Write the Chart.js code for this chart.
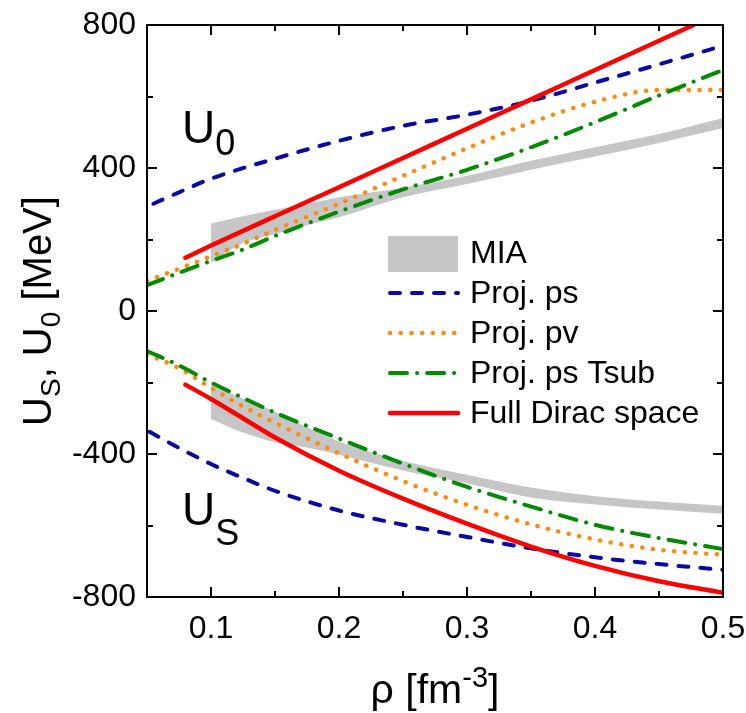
<!DOCTYPE html>
<html>
<head>
<meta charset="utf-8">
<script src="https://cdn.jsdelivr.net/npm/chart.js@4.4.1/dist/chart.umd.min.js"></script>
<style>
  html, body { margin: 0; padding: 0; background: #fff; }
  canvas { display: block; }
</style>
</head>
<body>
<canvas id="chart" width="746" height="713"></canvas>
<script>
/* ---------- Data ---------- */
const xTickVals = [0.1, 0.2, 0.3, 0.4, 0.5];
const yTickVals = [-800, -400, 0, 400, 800];
const seriesNames = ['MIA', 'Proj. ps', 'Proj. pv', 'Proj. ps Tsub', 'Full Dirac space'];

// MIA band (upper / lower edges)
const rhoMia     = [0.1, 0.125, 0.15, 0.175, 0.2, 0.25, 0.3, 0.35, 0.4, 0.45, 0.5];
const miaU0Upper = [245, 265, 283, 300, 318, 345, 378, 420, 458, 495, 540];
const miaU0Lower = [135, 190, 215, 240, 262, 318, 355, 395, 432, 470, 512];
const miaUsUpper = [-208, -245, -282, -325, -365, -419, -458, -494, -518, -533, -545];
const miaUsLower = [-302, -340, -367, -382, -402, -446, -482, -522, -541, -555, -567];

// Proj. ps
const rhoPs  = [0.055, 0.075, 0.1, 0.15, 0.2, 0.25, 0.3, 0.35, 0.4, 0.45, 0.5];
const psU0   = [300, 332, 370, 426, 476, 518, 549, 588, 639, 690, 742];
const rhoPsS = [0.052, 0.075, 0.1, 0.125, 0.15, 0.2, 0.25, 0.3, 0.35, 0.4, 0.45, 0.5];
const psUs   = [-338, -383, -428, -467, -503, -558, -598, -632, -664, -689, -708, -724];

// Proj. pv
const rhoPv = [0.05, 0.075, 0.1, 0.125, 0.15, 0.2, 0.25, 0.3, 0.35, 0.4, 0.45, 0.5];
const pvU0  = [84, 118, 153, 188, 227, 300, 378, 455, 527, 585, 618, 618];
const pvUs  = [-121, -160, -215, -267, -313, -398, -476, -542, -597, -639, -668, -682];

// Proj. ps Tsub
const rhoTsub = [0.05, 0.075, 0.1, 0.125, 0.15, 0.2, 0.25, 0.3, 0.35, 0.4, 0.45, 0.5];
const tsubU0  = [72, 107, 140, 172, 210, 278, 340, 395, 458, 528, 603, 674];
const tsubUs  = [-112, -152, -200, -243, -284, -357, -427, -492, -547, -598, -635, -666];

// Full Dirac space
const rhoDiracU0 = [0.08, 0.1, 0.15, 0.2, 0.25, 0.3, 0.35, 0.4, 0.45, 0.477];
const diracU0    = [149, 183, 265, 346, 428, 510, 592, 674, 756, 800];
const rhoDiracUs = [0.08, 0.1, 0.125, 0.15, 0.2, 0.25, 0.3, 0.35, 0.4, 0.45, 0.5];
const diracUs    = [-206, -246, -300, -354, -447, -525, -595, -659, -713, -756, -788];

/* ---------- Styles ---------- */
const FONT = '"Liberation Sans", Arial, sans-serif';
const GRAY = '#c6c6c6', BLUE = '#0a0a9e', ORANGE = '#ff8a12', GREEN = '#008a00', RED = '#ff0000';
const lineStyles = [
  null,
  { color: BLUE,   width: 4,   dash: [10, 12] },
  { color: ORANGE, width: 4.5, dash: [0.1, 10.6] },
  { color: GREEN,  width: 4,   dash: [17, 10, 0.1, 10] },
  { color: RED,    width: 4.5, dash: [] }
];

const toPts = (xs, ys) => xs.map((x, i) => ({ x, y: ys[i] }));

function band(label, xs, ys, fill){
  return { label, data: toPts(xs, ys), borderColor: 'transparent', borderWidth: 0,
           backgroundColor: GRAY, fill, pointRadius: 0, order: 10, cubicInterpolationMode: 'monotone' };
}
function curve(idx, xs, ys, order){
  const s = lineStyles[idx];
  return { label: seriesNames[idx], data: toPts(xs, ys), borderColor: s.color, borderWidth: s.width,
           borderDash: s.dash, borderCapStyle: 'round', borderJoinStyle: 'round',
           fill: false, pointRadius: 0, order, cubicInterpolationMode: 'monotone' };
}

/* ---------- Rich text helper (sub/superscripts) ---------- */
function drawRich(ctx, parts, x, y, align){
  let total = 0;
  parts.forEach(p => { ctx.font = p.size + 'px ' + FONT; p.w = ctx.measureText(p.t).width; total += p.w; });
  let cx = align === 'center' ? x - total / 2 : x;
  ctx.textBaseline = 'alphabetic'; ctx.textAlign = 'left';
  parts.forEach(p => { ctx.font = p.size + 'px ' + FONT; ctx.fillText(p.t, cx, y + (p.dy || 0)); cx += p.w; });
}

/* ---------- Frame, ticks, labels, legend ---------- */
const decor = {
  id: 'decor',
  afterDatasetsDraw(chart){
    const { ctx, chartArea: a, scales: { x, y } } = chart;
    ctx.save();
    ctx.strokeStyle = '#000'; ctx.lineWidth = 2; ctx.lineCap = 'butt';
    ctx.strokeRect(a.left, a.top, a.right - a.left, a.bottom - a.top);
    ctx.beginPath();
    for (let v = 0.05; v <= 0.5001; v += 0.05) {
      const px = Math.round(x.getPixelForValue(v));
      const len = Math.abs(v * 10 - Math.round(v * 10)) < 1e-6 ? 10 : 6;
      ctx.moveTo(px, a.bottom); ctx.lineTo(px, a.bottom - len);
      ctx.moveTo(px, a.top); ctx.lineTo(px, a.top + len);
    }
    for (let v = -800; v <= 800; v += 200) {
      const py = Math.round(y.getPixelForValue(v));
      const len = v % 400 === 0 ? 10 : 6;
      ctx.moveTo(a.left, py); ctx.lineTo(a.left + len, py);
      ctx.moveTo(a.right, py); ctx.lineTo(a.right - len, py);
    }
    ctx.stroke();

    ctx.fillStyle = '#000';
    // in-plot labels
    drawRich(ctx, [{ t: 'U', size: 46 }, { t: '0', size: 36, dy: 12 }], 182, 143, 'left');
    drawRich(ctx, [{ t: 'U', size: 46 }, { t: 'S', size: 36, dy: 20 }], 182, 525, 'left');

    // axis titles
    drawRich(ctx, [{ t: 'ρ [fm', size: 41 }, { t: '-3', size: 29, dy: -16 }, { t: ']', size: 41 }],
             (a.left + a.right) / 2, 703, 'center');
    ctx.save();
    ctx.translate(51, (a.top + a.bottom) / 2);
    ctx.rotate(-Math.PI / 2);
    drawRich(ctx, [{ t: 'U', size: 40 }, { t: 'S', size: 28, dy: 9 }, { t: ', U', size: 40 },
                   { t: '0', size: 28, dy: 9 }, { t: ' [MeV]', size: 40 }], 0, 0, 'center');
    ctx.restore();

    // legend
    const lx0 = 388, lx1 = 458, tx = 470;
    const rows = [253, 293, 333, 373, 413];
    ctx.fillStyle = GRAY;
    ctx.fillRect(lx0, 236, lx1 - lx0, 36);
    for (let i = 1; i < 5; i++) {
      const s = lineStyles[i];
      ctx.beginPath();
      ctx.strokeStyle = s.color; ctx.lineWidth = s.width; ctx.lineCap = 'round';
      ctx.setLineDash(s.dash);
      ctx.moveTo(lx0 + 2, rows[i]); ctx.lineTo(lx1, rows[i]);
      ctx.stroke();
    }
    ctx.setLineDash([]);
    ctx.fillStyle = '#000';
    ctx.font = '32px ' + FONT; ctx.textBaseline = 'middle'; ctx.textAlign = 'left';
    seriesNames.forEach((n, i) => ctx.fillText(n, tx, rows[i] + 1));
    ctx.restore();
  }
};

/* ---------- Chart ---------- */
new Chart(document.getElementById('chart').getContext('2d'), {
  type: 'line',
  data: {
    datasets: [
      curve(4, rhoDiracU0, diracU0, 1),
      curve(4, rhoDiracUs, diracUs, 1),
      curve(3, rhoTsub, tsubU0, 2),
      curve(3, rhoTsub, tsubUs, 2),
      curve(2, rhoPv, pvU0, 3),
      curve(2, rhoPv, pvUs, 3),
      curve(1, rhoPs, psU0, 4),
      curve(1, rhoPsS, psUs, 4),
      band('MIA U0 up', rhoMia, miaU0Upper, '+1'),
      band('MIA U0 lo', rhoMia, miaU0Lower, false),
      band('MIA Us up', rhoMia, miaUsUpper, '+1'),
      band('MIA Us lo', rhoMia, miaUsLower, false)
    ]
  },
  options: {
    responsive: false,
    animation: false,
    devicePixelRatio: 1,
    layout: { padding: { left: 0, right: 23, top: 25, bottom: 0 } },
    plugins: { legend: { display: false }, tooltip: { enabled: false } },
    scales: {
      x: {
        type: 'linear', min: 0.05, max: 0.5,
        afterBuildTicks: s => { s.ticks = xTickVals.map(v => ({ value: v })); },
        afterFit: s => { s.height = 116; s.paddingLeft = 0; s.paddingRight = 0; },
        grid: { display: false, drawTicks: false }, border: { display: false },
        ticks: { color: '#000', font: { family: FONT, size: 32 }, padding: 13, maxRotation: 0,
                 autoSkip: false, callback: v => v.toFixed(1) }
      },
      y: {
        type: 'linear', min: -800, max: 800,
        afterBuildTicks: s => { s.ticks = yTickVals.map(v => ({ value: v })); },
        afterFit: s => { s.width = 147; s.paddingTop = 0; s.paddingBottom = 0; },
        grid: { display: false, drawTicks: false }, border: { display: false },
        ticks: { color: '#000', font: { family: FONT, size: 32 }, padding: 11, callback: v => String(v) }
      }
    }
  },
  plugins: [decor]
});
</script>
</body>
</html>
